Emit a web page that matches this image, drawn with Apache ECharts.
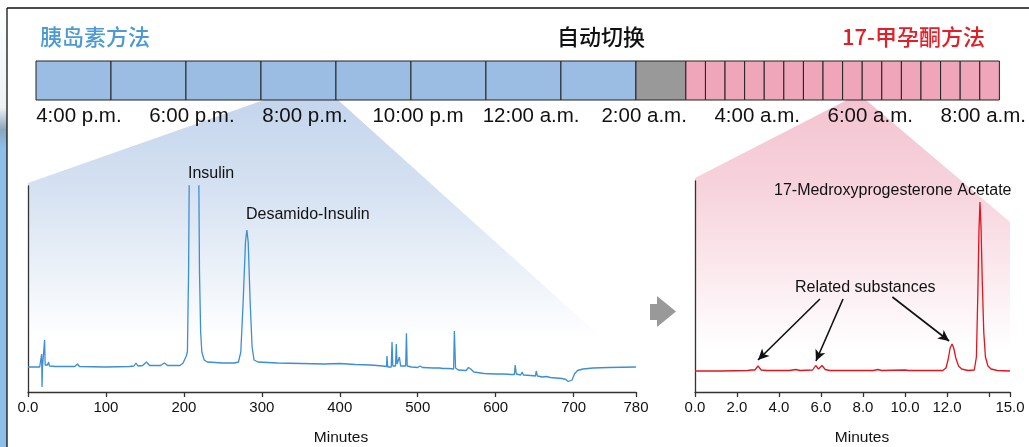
<!DOCTYPE html>
<html>
<head>
<meta charset="utf-8">
<script src="https://cdn.jsdelivr.net/npm/echarts@6/dist/echarts.min.js"></script>
<style>html,body{margin:0;padding:0;background:#fff}#c{width:1029px;height:447px}</style>
</head>
<body>
<div id="c"></div>
<script>
// ---- Timeline (minutes relative to 4:00 p.m.) ----
var timelineStart = -45.5;
var insulinRunMinutes = 79.6;
var insulinRuns = 8;
var switchMinutes = 53;
var mpaRunMinutes = 20.8;
var mpaRuns = 16;
var timeTickValues = [0, 120, 240, 360, 480, 600, 720, 840, 960];
var timeTickLabels = ['4:00 p.m.', '6:00 p.m.', '8:00 p.m.', '10:00 p.m', '12:00 a.m.', '2:00 a.m.', '4:00 a.m.', '6:00 a.m.', '8:00 a.m.'];

// ---- Insulin chromatogram: [minutes, signal] ----
var insulinTrace = [
 [0,25],[15,25],[17,25],[17.5,38],[18,5],[18.6,25],[20.5,25],[21.3,52],[22,27],[25,27],[26.5,30],[27.5,26],[35,25.5],
 [60,25.5],[63.5,28],[66,25.5],[100,25],[130,25.5],[136,26],[138.5,29],[141,26],[147,26.5],[152,30],[156,26.5],
 [170,26.5],[175,29],[179,26.5],[195,26.5],[199,29],[203,36],[204.5,40],[206,120],[207,230],[213,400],[219,230],
 [220,120],[221.5,60],[223,40],[226,32],[230,30],[240,29.5],[250,29],[265,29],[270,30],[273,40],[276,90],[279,150],
 [280.8,162],[282.5,150],[285,90],[287.5,45],[290,32],[295,30],[320,29],[350,28.5],[380,28],[400,28.5],[420,27.5],
 [440,27],[455,26],[460,25.5],[460.5,36],[461.5,25],[466,25],[467,50],[468,26],[471.5,26],[472.5,48],[473.5,28],
 [475,30],[476.5,35],[478,26],[484.5,26],[485.5,58.7],[486.5,26],[492,25],[500,24.5],[503,26],[506,24.5],[520,24],
 [528,24],[530,26],[532,23.5],[540,23.5],[541,25.5],[542,23.5],[546,23],[547,61],[548.5,24],[552,22],[562,21.5],
 [565,24.5],[568,23],[572,20],[585,18.5],[600,18],[610,18],[611,20],[612,18],[620,17.5],[624,17.5],[625,27],
 [626.5,18],[632,17],[634,20],[635.5,17],[645,16.5],[651,16],[652,21],[653.5,16],[660,15],[665,15.5],[670,14.5],
 [685,13.5],[690,12.5],[693,10.5],[695.5,8.7],[698,12],[701,18],[705,21.5],[712,23],[725,24],[745,24.5],[780,25]
];
var insulinTicks = [0, 100, 200, 300, 400, 500, 600, 700, 780];

// ---- 17-MPA chromatogram: [minutes, signal] ----
var mpaTrace = [
 [0,21],[1.2,21],[2.5,21.5],[2.7,22],[2.85,22],[3.0,26],[3.15,22],[3.4,21.5],[4.5,21.5],[4.8,22.5],[5.0,21.5],
 [5.6,22],[5.75,26.5],[5.88,23],[5.95,23],[6.05,26.5],[6.2,22.5],[6.4,21.5],[8.5,21.5],[8.7,22.5],[8.9,21.5],
 [10.0,22],[10.2,21.5],[11.8,21.5],[11.95,24],[12.05,32],[12.15,44],[12.24,48],[12.32,44],[12.42,34],[12.55,26],
 [12.7,23],[13.0,21.5],[13.3,22],[13.4,35],[13.47,100],[13.52,160],[13.57,190],[13.62,165],[13.68,110],[13.75,60],
 [13.83,35],[13.95,26],[14.1,23],[14.4,21.5],[15,21]
];
var mpaTickValues = [0, 2, 4, 6, 8, 10, 12, 14, 15];
var mpaLabelValues = [0, 2, 4, 6, 8, 10, 12, 15];
// arrows: [from, to] in [minutes, signal]
var relatedArrows = [
 [[5.95, 93], [3.0, 32]],
 [[7.05, 93], [5.76, 31]],
 [[9.4, 95], [12.1, 51]]
];

// build timeline cells
var cells = [];
var t = timelineStart;
for (var i = 0; i < insulinRuns; i++) { cells.push([t, t + insulinRunMinutes, 0]); t += insulinRunMinutes; }
cells.push([t, t + switchMinutes, 1]); t += switchMinutes;
for (var j = 0; j < mpaRuns; j++) { cells.push([t, t + mpaRunMinutes, 2]); t += mpaRunMinutes; }
var cellColors = ['#9cbde3', '#999999', '#f0a6ba'];

var chart = echarts.init(document.getElementById('c'), null, {renderer: 'canvas'});
var FONT = '"Liberation Sans", Arial, Helvetica, sans-serif';
var CJK = '"Noto Sans CJK SC", sans-serif';

var option = {
  animation: false,
  textStyle: {fontFamily: FONT},
  grid: [
    {left: 36, top: 61, width: 967, height: 39},
    {left: 28, top: 186, width: 608, height: 206},
    {left: 695, top: 181, width: 315, height: 211}
  ],
  xAxis: [
    {gridIndex: 0, type: 'value', min: timelineStart, max: t,
     axisLine: {show: false}, axisTick: {show: false}, splitLine: {show: false},
     axisLabel: {customValues: timeTickValues, margin: 6, fontSize: 20.5, color: '#111', fontFamily: FONT,
       formatter: function (v) { var k = timeTickValues.indexOf(v); return k >= 0 ? timeTickLabels[k] : ''; }}},
    {gridIndex: 1, type: 'value', min: 0, max: 780,
     axisLine: {show: true, lineStyle: {color: '#333', width: 1.3}},
     axisTick: {show: true, customValues: insulinTicks, length: 5, lineStyle: {color: '#333', width: 1.3}},
     splitLine: {show: false},
     axisLabel: {customValues: insulinTicks, margin: 8, fontSize: 15, color: '#111', fontFamily: FONT,
       formatter: function (v) { return v === 0 ? '0.0' : String(v); }},
     name: 'Minutes', nameLocation: 'middle', nameGap: 38,
     nameTextStyle: {fontSize: 15.5, color: '#111', fontFamily: FONT, padding: [0, 0, 0, 18]}},
    {gridIndex: 2, type: 'value', min: 0, max: 15,
     axisLine: {show: true, lineStyle: {color: '#333', width: 1.3}},
     axisTick: {show: true, customValues: mpaTickValues, length: 5, lineStyle: {color: '#333', width: 1.3}},
     splitLine: {show: false},
     axisLabel: {customValues: mpaLabelValues, margin: 8, fontSize: 15, color: '#111', fontFamily: FONT,
       formatter: function (v) { return v.toFixed(1); }},
     name: 'Minutes', nameLocation: 'middle', nameGap: 38,
     nameTextStyle: {fontSize: 15.5, color: '#111', fontFamily: FONT, padding: [0, 0, 0, 19]}}
  ],
  yAxis: [
    {gridIndex: 0, type: 'value', min: 0, max: 1, show: false},
    {gridIndex: 1, type: 'value', min: 0, max: 206,
     axisLine: {show: true, lineStyle: {color: '#333', width: 1.3}}, axisTick: {show: false},
     axisLabel: {show: false}, splitLine: {show: false}},
    {gridIndex: 2, type: 'value', min: 0, max: 211,
     axisLine: {show: true, lineStyle: {color: '#333', width: 1.3}}, axisTick: {show: false},
     axisLabel: {show: false}, splitLine: {show: false}}
  ],
  series: [
    {type: 'custom', xAxisIndex: 0, yAxisIndex: 0, data: cells, encode: {x: [0, 1]},
     renderItem: function (params, api) {
       var a = api.coord([api.value(0), 1]);
       var b = api.coord([api.value(1), 0]);
       return {type: 'rect', shape: {x: a[0], y: a[1], width: b[0] - a[0], height: b[1] - a[1]},
         style: {fill: cellColors[api.value(2)], stroke: '#222', lineWidth: 1}};
     }},
    {type: 'line', xAxisIndex: 1, yAxisIndex: 1, data: insulinTrace, showSymbol: false, clip: true,
     lineStyle: {color: '#3d8fd2', width: 1.3}, z: 5},
    {type: 'line', xAxisIndex: 2, yAxisIndex: 2, data: mpaTrace, showSymbol: false, clip: true,
     lineStyle: {color: '#e3141c', width: 1.3}, z: 5,
     markLine: {silent: true, symbol: ['none', 'arrow'], symbolSize: [8, 11], animation: false,
       label: {show: false}, lineStyle: {color: '#111', width: 1.6, type: 'solid'},
       data: relatedArrows.map(function (p) { return [{coord: p[0]}, {coord: p[1]}]; })}}
  ],
  graphic: [
    // left strip
    {type: 'rect', z: -20, shape: {x: 0, y: 0, width: 7, height: 447},
     style: {fill: new echarts.graphic.LinearGradient(0, 0, 0, 1, [
       {offset: 0, color: '#ffffff'}, {offset: 0.24, color: '#eef1f4'}, {offset: 0.29, color: '#8aa6bd'},
       {offset: 0.33, color: '#8cc0e8'}, {offset: 1, color: '#8cc0e8'}])}},
    {type: 'line', z: -5, shape: {x1: 7, y1: 8, x2: 1029, y2: 8}, style: {stroke: '#111', lineWidth: 1.3}},
    {type: 'line', z: -5, shape: {x1: 7, y1: 8, x2: 7, y2: 447}, style: {stroke: '#111', lineWidth: 1.3}},
    // zoom wedges
    {type: 'polygon', z: -10, shape: {points: [[264, 100], [338, 100], [632, 365], [28, 365], [28, 183]]},
     style: {fill: new echarts.graphic.LinearGradient(0, 0, 0, 1, [
       {offset: 0, color: '#c4d5ec'}, {offset: 0.35, color: '#d6e2f2'}, {offset: 0.9, color: '#ffffff'}, {offset: 1, color: '#ffffff'}])}},
    {type: 'polygon', z: -10, shape: {points: [[847, 100], [866, 100], [1010, 222], [1010, 372], [695, 372], [695, 178]]},
     style: {fill: new echarts.graphic.LinearGradient(0, 0, 0, 1, [
       {offset: 0, color: '#f3c3d0'}, {offset: 0.35, color: '#f7d5de'}, {offset: 0.92, color: '#ffffff'}, {offset: 1, color: '#ffffff'}])}},
    // gray arrow
    {type: 'polygon', z: 1, shape: {points: [[650, 304], [657, 304], [657, 296], [676, 311.5], [657, 327], [657, 320], [650, 320]]},
     style: {fill: '#999999'}},
    // titles
    {type: 'text', z: 10, style: {x: 40, y: 37, text: '胰岛素方法', font: '500 22px ' + CJK, fill: '#4a9ad6', textVerticalAlign: 'middle'}},
    {type: 'text', z: 10, style: {x: 557, y: 37, text: '自动切换', font: '500 22px ' + CJK, fill: '#111', textVerticalAlign: 'middle'}},
    {type: 'text', z: 10, style: {x: 842, y: 37, text: '17-甲孕酮方法', font: '500 22px ' + CJK, fill: '#e41e26', textVerticalAlign: 'middle'}},
    // chart annotations
    {type: 'text', z: 10, style: {x: 188, y: 174, text: 'Insulin', font: '16px ' + FONT, fill: '#111', textVerticalAlign: 'middle'}},
    {type: 'text', z: 10, style: {x: 246, y: 215, text: 'Desamido-Insulin', font: '16px ' + FONT, fill: '#111', textVerticalAlign: 'middle'}},
    {type: 'text', z: 10, style: {x: 774, y: 191, text: '17-Medroxyprogesterone Acetate', font: '16px ' + FONT, fill: '#111', textVerticalAlign: 'middle'}},
    {type: 'text', z: 10, style: {x: 795, y: 288, text: 'Related substances', font: '16px ' + FONT, fill: '#111', textVerticalAlign: 'middle'}}
  ]
};
chart.setOption(option);
</script>
</body>
</html>
